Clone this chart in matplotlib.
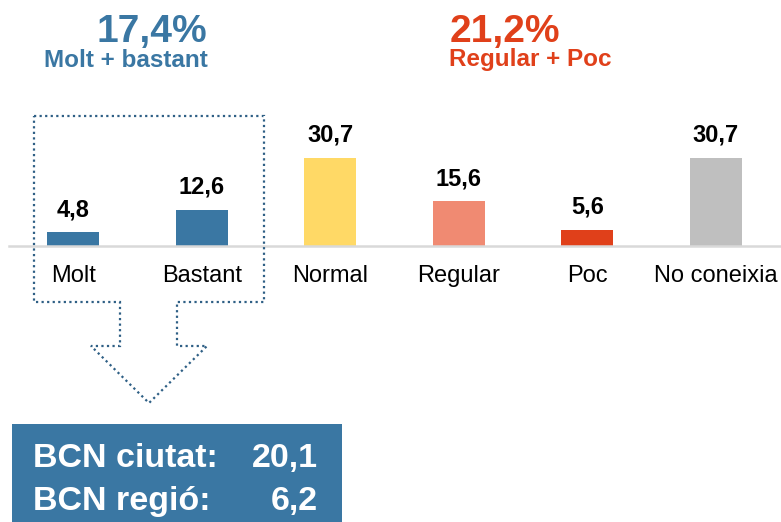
import matplotlib.pyplot as plt
from matplotlib.patches import Polygon, Rectangle

plt.rcParams['font.family'] = ['Liberation Sans', 'DejaVu Sans']

categories = ["Molt", "Bastant", "Normal", "Regular", "Poc", "No coneixia"]
values = [4.8, 12.6, 30.7, 15.6, 5.6, 30.7]
value_labels = ["4,8", "12,6", "30,7", "15,6", "5,6", "30,7"]
colors = ["#3A77A3", "#3A77A3", "#FFD966", "#F08A72", "#E0401A", "#BFBFBF"]

good_total = "17,4%"
good_label = "Molt + bastant"
bad_total = "21,2%"
bad_label = "Regular + Poc"
box_rows = [("BCN ciutat:", "20,1"), ("BCN regió:", "6,2")]

blue = "#3A77A3"
red = "#E0401A"

W, H = 781, 522
fig = plt.figure(figsize=(W / 100, H / 100), dpi=100)

# bar axes, placed in pixels: x from 9 to 780, baseline at y=246
ymax = 40
px_per_unit = 88 / 30.7
ax = fig.add_axes([9 / W, (H - 246) / H, 771 / W, ymax * px_per_unit / H])
x = range(len(categories))
bars = ax.bar(x, values, width=0.405, color=colors)
ax.bar_label(bars, labels=value_labels, padding=8, fontsize=17, fontweight="bold")
ax.set_xlim(-0.5, 5.5)
ax.set_ylim(0, ymax)
ax.set_xticks(list(x))
ax.set_xticklabels(categories, fontsize=17)
ax.tick_params(axis="x", length=0, pad=14)
ax.set_yticks([])
for s in ["top", "right", "left"]:
    ax.spines[s].set_visible(False)
ax.spines["bottom"].set_color("#D9D9D9")
ax.spines["bottom"].set_linewidth(1.8)

# overlay in pixel coordinates (y down)
ov = fig.add_axes([0, 0, 1, 1], zorder=5)
ov.set_xlim(0, W)
ov.set_ylim(H, 0)
ov.axis("off")
ov.patch.set_alpha(0)

# big totals: baseline near y=42, subtitles just below
ov.text(152, 42, good_total, color=blue, fontsize=28, fontweight="bold", ha="center", va="baseline")
ov.text(126, 67, good_label, color=blue, fontsize=17.5, fontweight="bold", ha="center", va="baseline")
ov.text(505, 42, bad_total, color=red, fontsize=28, fontweight="bold", ha="center", va="baseline")
ov.text(530, 66, bad_label, color=red, fontsize=17.5, fontweight="bold", ha="center", va="baseline")

# dotted callout arrow round Molt + Bastant
outline = [(34, 116), (264, 116), (264, 302), (177, 302), (177, 346), (207, 346),
           (149, 403), (91, 346), (120, 346), (120, 302), (34, 302)]
ov.add_patch(Polygon(outline, closed=True, fill=False, edgecolor="#2E5F85",
                     linestyle=(0, (1, 1.5)), linewidth=1.6))

# summary box
ov.add_patch(Rectangle((12, 424), 330, 98, facecolor=blue, edgecolor="none"))
for i, (name, val) in enumerate(box_rows):
    y = 467 + i * 43
    ov.text(33, y, name, color="white", fontsize=24.5, fontweight="bold", va="baseline", ha="left")
    ov.text(318, y, val, color="white", fontsize=24.5, fontweight="bold", va="baseline", ha="right")

fig.savefig("out.png", dpi=100)
